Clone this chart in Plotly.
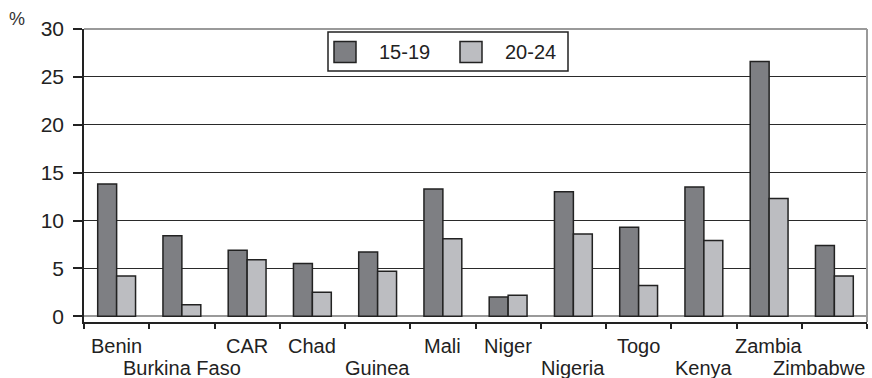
import plotly.graph_objects as go

categories = ["Benin", "Burkina Faso", "CAR", "Chad", "Guinea", "Mali", "Niger",
              "Nigeria", "Togo", "Kenya", "Zambia", "Zimbabwe"]
series_names = ["15-19", "20-24"]
values_15_19 = [13.8, 8.4, 6.9, 5.5, 6.7, 13.3, 2.0, 13.0, 9.3, 13.5, 26.6, 7.4]
values_20_24 = [4.2, 1.2, 5.9, 2.5, 4.7, 8.1, 2.2, 8.6, 3.2, 7.9, 12.3, 4.2]
y_ticks = [0, 5, 10, 15, 20, 25, 30]
y_unit = "%"

# layout: which row each category label sits in (staggered as in the original)
label_rows = [0, 1, 0, 0, 1, 0, 0, 1, 0, 1, 0, 1]

DARK = "#7e7f83"
LIGHT = "#bcbdc1"
EDGE = "#222222"
FONT = "Liberation Sans, Arial, Helvetica, sans-serif"

W, H = 872, 378
ML, MR, MT, MB = 84, 5, 29, 56
PW, PH = W - ML - MR, H - MT - MB

def px_x(p):
    return (p - ML) / PW

def px_y(p):
    return (H - MB - p) / PH

fig = go.Figure()
for name, vals, col in [(series_names[0], values_15_19, DARK), (series_names[1], values_20_24, LIGHT)]:
    fig.add_trace(go.Bar(x=categories, y=vals, name=name, marker=dict(color=col, line=dict(color=EDGE, width=1.5)),
                         showlegend=False))

n = len(categories)
fig.update_layout(
    width=W, height=H,
    margin=dict(l=ML, r=MR, t=MT, b=MB, autoexpand=False),
    paper_bgcolor="white", plot_bgcolor="white",
    barmode="group", bargap=0.42, bargroupgap=0,
    font=dict(family=FONT, size=20, color=EDGE),
    xaxis=dict(type="category", range=[-0.5, n - 0.5], showticklabels=False,
               tickson="boundaries", ticks="outside", ticklen=5, tickwidth=1.5, tickcolor=EDGE,
               showline=True, linecolor=EDGE, linewidth=1.5, showgrid=False, zeroline=False,
               fixedrange=True),
    xaxis2=dict(overlaying="x", anchor="y", side="bottom", range=[-0.5, n - 0.5],
                tickmode="linear", tick0=-0.5, dtick=1, ticks="inside", ticklen=5, tickwidth=1.5,
                tickcolor=EDGE, showticklabels=False, showline=False, showgrid=False, zeroline=False),
    yaxis=dict(range=[-0.6, 30], tickvals=y_ticks, ticks="outside", ticklen=9, tickwidth=1.5,
               tickcolor=EDGE, showline=True, linecolor=EDGE, linewidth=1.5,
               showgrid=True, gridcolor="#2a2a2a", gridwidth=1,
               zeroline=True, zerolinecolor="#9a9a9a", zerolinewidth=2,
               ticklabelstandoff=5, tickfont=dict(size=21, color=EDGE)),
)

# plot frame (top/right border)
fig.add_shape(type="line", xref="paper", yref="paper", x0=0, x1=1, y0=1, y1=1,
              line=dict(color="#9a9a9a", width=2))
fig.add_shape(type="line", xref="paper", yref="paper", x0=1, x1=1, y0=0, y1=1,
              line=dict(color="#9a9a9a", width=2))

# category labels, staggered in two rows
for i, cat in enumerate(categories):
    row = label_rows[i]
    last = i == n - 1
    fig.add_annotation(x=(i + 0.5) if last else i, xref="x", y=0, yref="paper",
                       xanchor="right" if last else "center", yanchor="top",
                       yshift=-11 - 22 * row, text=cat, showarrow=False,
                       font=dict(size=20, color=EDGE))

# unit label
fig.add_annotation(x=px_x(17), y=px_y(19), xref="paper", yref="paper", text=y_unit,
                   xanchor="center", yanchor="middle",
                   showarrow=False, font=dict(size=18, color="#333333"))

# custom legend
fig.add_shape(type="rect", xref="paper", yref="paper", x0=px_x(328), x1=px_x(568),
              y0=px_y(71), y1=px_y(32), line=dict(color=EDGE, width=1.5), fillcolor="white")
for name, col, sx, tx in [(series_names[0], DARK, 334, 377), (series_names[1], LIGHT, 460, 503)]:
    fig.add_shape(type="rect", xref="paper", yref="paper", x0=px_x(sx), x1=px_x(sx + 22),
                  y0=px_y(62.5), y1=px_y(41.5), line=dict(color=EDGE, width=1.5), fillcolor=col)
    fig.add_annotation(x=px_x(tx), y=px_y(52), xref="paper", yref="paper", xanchor="left",
                       yanchor="middle", text=name, showarrow=False, font=dict(size=20, color=EDGE))

fig.write_html("out.html", config={"displayModeBar": False},
               post_script="document.body.style.margin='0';document.body.style.overflow='hidden';")
